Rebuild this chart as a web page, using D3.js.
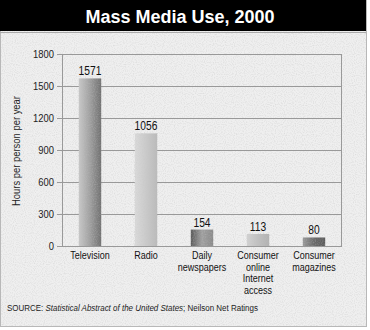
<!DOCTYPE html>
<html><head><meta charset="utf-8">
<script src="https://cdn.jsdelivr.net/npm/d3@7"></script>
<style>
body{margin:0;background:#fff;}
svg{display:block;}
text{font-family:"Liberation Sans",Arial,Helvetica,sans-serif;}
</style></head><body>
<svg id="c" width="370" height="330"></svg>
<script>
const title = "Mass Media Use, 2000";
const categories = [["Television"],["Radio"],["Daily","newspapers"],["Consumer","online","Internet","access"],["Consumer","magazines"]];
const values = [1571, 1056, 154, 113, 80];
const yTicks = [0, 300, 600, 900, 1200, 1500, 1800];
const yLabel = "Hours per person per year";
const gradients = [
  ["#c8c8c8","#a0a0a0","#707070"],
  ["#dadada","#cacaca","#bababa"],
  ["#5a5a5a","#a0a0a0","#8a8a8a"],
  ["#d2d2d2","#c0c0c0","#b2b2b2"],
  ["#9a9a9a","#6a6a6a","#5a5a5a"]
];
const SX = 0.82; // condensed look

const svg = d3.select("#c");
const defs = svg.append("defs");
const flt = defs.append("filter").attr("id","noise").attr("x",0).attr("y",0).attr("width","100%").attr("height","100%");
flt.append("feTurbulence").attr("type","fractalNoise").attr("baseFrequency",0.9).attr("numOctaves",1).attr("seed",3).attr("result","n");
flt.append("feColorMatrix").attr("in","n").attr("type","matrix")
  .attr("values","0 0 0 0 0.55  0 0 0 0 0.55  0 0 0 0 0.55  0 0 0 -2.2 1.25").attr("result","m");
gradients.forEach((g,i)=>{
  const lg = defs.append("linearGradient").attr("id","g"+i).attr("x1",0).attr("x2",1).attr("y1",0).attr("y2",0);
  g.forEach((c,j)=>lg.append("stop").attr("offset",j/(g.length-1)).attr("stop-color",c));
});

// background
svg.append("rect").attr("x",0).attr("y",0).attr("width",366).attr("height",326).attr("fill","#efefef");
svg.append("rect").attr("x",0).attr("y",0).attr("width",366).attr("height",326).attr("filter","url(#noise)").attr("opacity",0.45);
svg.append("rect").attr("x",0.5).attr("y",0.5).attr("width",366).attr("height",326).attr("fill","none").attr("stroke","#b8b8b8");

// title bar
svg.append("rect").attr("x",0).attr("y",0).attr("width",366).attr("height",31).attr("fill","#000");
svg.append("line").attr("x1",0).attr("x2",366).attr("y1",32.5).attr("y2",32.5).attr("stroke","#aaa");
svg.append("text").attr("x",180).attr("y",22.5).attr("text-anchor","middle").attr("fill","#fff")
  .style("font-weight","bold").style("font-size","18px").text(title);

const x = d3.scaleBand().domain(d3.range(values.length)).range([62,342]).paddingInner(0.6).paddingOuter(0.3);
const y = d3.scaleLinear().domain([0,1800]).range([246,54]);

// grid
const grid = svg.append("g");
grid.selectAll("line").data(yTicks).join("line")
  .attr("x1",57).attr("x2",342).attr("y1",d=>Math.round(y(d))+0.5).attr("y2",d=>Math.round(y(d))+0.5)
  .attr("stroke","#999").attr("stroke-width",1);
svg.append("line").attr("x1",62.5).attr("x2",62.5).attr("y1",y(1800)).attr("y2",y(0)+1).attr("stroke","#999");
svg.append("line").attr("x1",341.5).attr("x2",341.5).attr("y1",y(1800)).attr("y2",y(0)+1).attr("stroke","#999");

// y axis labels
svg.append("g").selectAll("text").data(yTicks).join("text")
  .attr("transform",d=>`translate(54,${y(d)+4}) scale(${SX},1)`).attr("text-anchor","end")
  .attr("fill","#222").style("font-size","11.5px").text(d=>d);
svg.append("text").attr("transform",`translate(20,151) rotate(-90) scale(${SX},1)`).attr("text-anchor","middle")
  .attr("fill","#222").style("font-size","11.5px").text(yLabel);

// bars
const bars = svg.append("g");
bars.selectAll("rect.b").data(values).join("rect").attr("class","b")
  .attr("x",(d,i)=>x(i)).attr("width",x.bandwidth()).attr("y",d=>y(d)).attr("height",d=>y(0)-y(d))
  .attr("fill",(d,i)=>`url(#g${i})`);
bars.selectAll("rect.n").data(values).join("rect").attr("class","n")
  .attr("x",(d,i)=>x(i)).attr("width",x.bandwidth()).attr("y",d=>y(d)).attr("height",d=>y(0)-y(d))
  .attr("filter","url(#noise)").attr("opacity",0.35);
bars.selectAll("text").data(values).join("text")
  .attr("transform",(d,i)=>`translate(${x(i)+x.bandwidth()/2},${y(d)-3}) scale(${SX},1)`).attr("text-anchor","middle")
  .attr("fill","#111").style("font-size","12.5px").text(d=>d);

// category labels (one text per line)
const lines = categories.flatMap((c,i)=>c.map((t,j)=>({i,j,t})));
svg.append("g").selectAll("text").data(lines).join("text")
  .attr("transform",d=>`translate(${x(d.i)+x.bandwidth()/2},${259+d.j*11.5}) scale(${SX},1)`)
  .attr("text-anchor","middle").attr("fill","#111").style("font-size","11px").text(d=>d.t);

// source
const src = svg.append("text").attr("transform",`translate(7,311) scale(0.84,1)`).attr("fill","#222").style("font-size","9.5px");
src.append("tspan").text("SOURCE: ");
src.append("tspan").style("font-style","italic").text("Statistical Abstract of the United States");
src.append("tspan").text("; Neilson Net Ratings");
</script>
</body></html>
